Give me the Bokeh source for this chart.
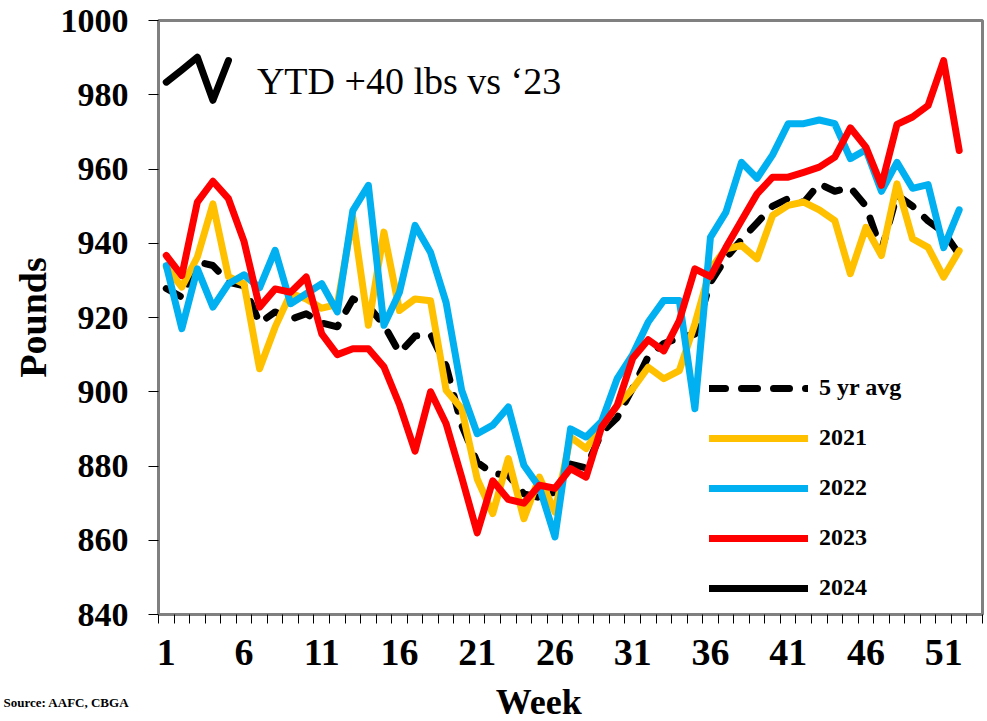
from bokeh.plotting import figure
from bokeh.layouts import column
from bokeh.models import Range1d, FixedTicker, Label, Legend, LegendItem
from bokeh.embed import file_html
from bokeh.resources import INLINE

weeks = list(range(1, 53))
weeks_2024 = [1, 2, 3, 4, 5]

avg5 = [927.8, 925.5, 935.0, 934.0, 929.5, 928.5, 918.5, 921.5, 919.5, 921.0,
        918.5, 917.5, 925.0, 923.0, 918.0, 910.5, 915.0, 915.5, 907.0, 891.0,
        881.0, 878.0, 877.5, 872.5, 871.5, 873.0, 880.5, 879.5, 889.0, 893.0,
        901.0, 909.5, 913.0, 914.5, 915.5, 929.5, 936.0, 941.0, 945.5, 950.0,
        952.0, 951.0, 956.0, 954.0, 955.0, 950.0, 938.0, 953.0, 950.0, 946.0,
        943.0, 937.0]
y2021 = [933.6, 928.2, 936.3, 950.6, 931.0, 929.1, 906.2, 917.4, 926.5, 925.0,
         922.5, 923.5, 947.0, 917.9, 943.0, 921.9, 925.0, 924.5, 900.4, 895.5,
         876.5, 867.2, 882.0, 865.8, 877.0, 867.6, 887.8, 884.7, 890.5, 896.3,
         900.8, 906.6, 903.5, 905.7, 918.3, 933.1, 938.5, 939.4, 935.8, 947.5,
         950.2, 951.1, 949.0, 946.1, 931.8, 944.3, 936.7, 956.0, 941.2, 938.9,
         930.9, 938.0]
y2022 = [934.0, 917.0, 933.1, 922.8, 929.1, 931.5, 928.0, 938.1, 923.7, 926.4,
         929.1, 921.5, 948.8, 955.6, 917.9, 926.8, 944.8, 937.5, 924.0, 900.4,
         888.7, 891.0, 895.9, 880.2, 874.3, 860.9, 890.0, 887.8, 892.0, 903.5,
         910.0, 918.8, 924.6, 924.6, 895.4, 941.6, 948.4, 961.8, 957.5, 963.8,
         972.2, 972.2, 973.2, 972.2, 962.8, 965.2, 954.0, 961.8, 954.8, 955.8,
         938.8, 949.0]
y2023 = [936.7, 931.3, 951.1, 956.7, 952.0, 940.5, 922.8, 927.7, 926.8, 930.9,
         915.6, 910.0, 911.6, 911.6, 906.7, 896.5, 884.0, 900.0, 891.4, 877.0,
         862.0, 876.0, 871.0, 870.0, 874.8, 874.0, 879.3, 877.0, 890.5, 896.3,
         909.0, 914.0, 911.0, 919.2, 933.1, 931.0, 938.9, 946.1, 953.3, 957.8,
         957.8, 959.1, 960.5, 963.2, 971.1, 965.9, 955.6, 972.0, 974.0, 977.1,
         989.2, 965.0]
y2024 = [983.4, 986.7, 990.1, 978.5, 989.2]

x_tick_labels = [1, 6, 11, 16, 21, 26, 31, 36, 41, 46, 51]
y_ticks = [840, 860, 880, 900, 920, 940, 960, 980, 1000]

SERIF = "Liberation Serif"

p = figure(width=987, height=683, x_range=Range1d(0.5, 53.5), y_range=Range1d(840, 1000),
           output_backend="svg", toolbar_location=None, title=None,
           min_border_left=158, min_border_right=5, min_border_top=20, min_border_bottom=69)
p.xgrid.visible = False
p.ygrid.visible = False
p.background_fill_color = "white"
p.border_fill_color = "white"
p.outline_line_color = "#808080"
p.outline_line_width = 3

# y axis
p.yaxis.ticker = FixedTicker(ticks=y_ticks)
p.yaxis.major_tick_out = 10
p.yaxis.major_tick_in = 0
p.yaxis.minor_tick_line_color = None
p.yaxis.major_tick_line_color = "black"
p.yaxis.axis_line_color = "#808080"
p.yaxis.axis_line_width = 3
p.yaxis.major_label_text_font = SERIF
p.yaxis.major_label_text_font_style = "bold"
p.yaxis.major_label_text_font_size = "34px"
p.yaxis.major_label_text_color = "black"
p.yaxis.major_label_standoff = 20
p.yaxis.axis_label = "Pounds"
p.yaxis.axis_label_text_font = SERIF
p.yaxis.axis_label_text_font_style = "bold"
p.yaxis.axis_label_text_font_size = "38px"
p.yaxis.axis_label_text_color = "black"
p.yaxis.axis_label_standoff = 4

# x axis
p.xaxis.ticker = FixedTicker(ticks=x_tick_labels,
                             minor_ticks=[i + 0.5 for i in range(0, 54)])
p.xaxis.major_tick_line_color = None
p.xaxis.minor_tick_out = 9
p.xaxis.minor_tick_in = 0
p.xaxis.minor_tick_line_color = "black"
p.xaxis.axis_line_color = "#808080"
p.xaxis.axis_line_width = 3
p.xaxis.major_label_text_font = SERIF
p.xaxis.major_label_text_font_style = "bold"
p.xaxis.major_label_text_font_size = "38px"
p.xaxis.major_label_text_color = "black"
p.xaxis.major_label_standoff = 16

LW = 7
r_avg = p.line(weeks, avg5, line_color="black", line_width=LW, line_dash="16 16",
               line_cap="round", line_join="round")
r21 = p.line(weeks, y2021, line_color="#FFC000", line_width=LW, line_cap="round", line_join="round")
r22 = p.line(weeks, y2022, line_color="#00B0F0", line_width=LW, line_cap="round", line_join="round")
r23 = p.line(weeks, y2023, line_color="#FF0000", line_width=LW, line_cap="round", line_join="round")
r24 = p.line(weeks_2024, y2024, line_color="black", line_width=LW, line_cap="round", line_join="round")

legend = Legend(items=[LegendItem(label="5 yr avg", renderers=[r_avg]),
                       LegendItem(label="2021", renderers=[r21]),
                       LegendItem(label="2022", renderers=[r22]),
                       LegendItem(label="2023", renderers=[r23]),
                       LegendItem(label="2024", renderers=[r24])],
                location=(551, 13), orientation="vertical",
                glyph_width=99, glyph_height=24, label_height=24, spacing=23,
                padding=0, margin=0, label_standoff=11,
                border_line_alpha=0, background_fill_alpha=0,
                label_text_font=SERIF, label_text_font_style="bold",
                label_text_font_size="24px", label_text_color="black")
p.add_layout(legend)

p.add_layout(Label(x=6.83, y=983.8, text="YTD +40 lbs vs \u201823", text_font=SERIF,
                   text_font_size="38px", text_color="black", text_baseline="alphabetic"))

# bottom strip: x-axis title and source note (frame aligned with the chart above)
strip = figure(width=987, height=38, x_range=Range1d(0.5, 53.5), y_range=Range1d(0, 38),
               output_backend="svg", toolbar_location=None, title=None, min_border=0,
               min_border_left=158, min_border_right=5, x_axis_type=None)
strip.outline_line_color = None
strip.grid.visible = False
strip.background_fill_color = "white"
strip.border_fill_color = "white"
sax = strip.yaxis[0]
sax.ticker = FixedTicker(ticks=[])
sax.axis_line_color = None
sax.major_tick_line_color = None
sax.minor_tick_line_color = None
sax.axis_label = "Source:  AAFC, CBGA"
sax.axis_label_orientation = "horizontal"
sax.axis_label_text_font = SERIF
sax.axis_label_text_font_style = "bold"
sax.axis_label_text_font_size = "13px"
sax.axis_label_text_color = "black"
sax.axis_label_standoff = 26

strip.add_layout(Label(x=24.96, y=20, text="Week", text_font=SERIF, text_font_style="bold",
                       text_font_size="36px", text_color="black", text_align="center",
                       text_baseline="middle"))

layout = column(p, strip, spacing=0)
open("out.html", "w").write(file_html(layout, INLINE))
